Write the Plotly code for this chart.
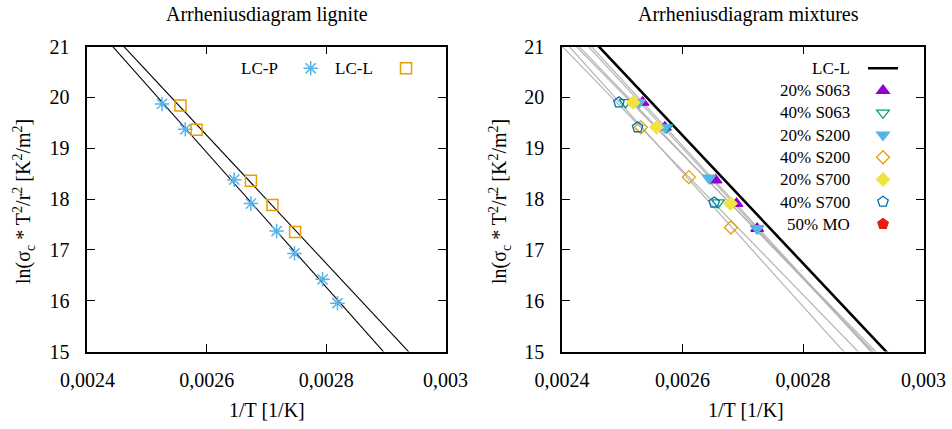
import numpy as np
import plotly.graph_objects as go

W, H = 952, 429

# ---------------- data ----------------
x_ticks = [0.0024, 0.0026, 0.0028, 0.003]
x_tick_labels = ["0,0024", "0,0026", "0,0028", "0,003"]
y_ticks = [15, 16, 17, 18, 19, 20, 21]

# lignite (left panel)
lcp_x = [0.002525, 0.002564, 0.002646, 0.002674, 0.002717, 0.002747, 0.002794, 0.002819]
lcp_y = [19.87, 19.37, 18.38, 17.91, 17.37, 16.93, 16.42, 15.95]
lcl_x = [0.002556, 0.002583, 0.002674, 0.002710, 0.002748]
lcl_y = [19.84, 19.36, 18.36, 17.88, 17.35]

# Arrhenius fit lines (intercept, slope)
lcp_fit = [53.32, -13233.0]
lcl_fit = [51.97, -12584.0]

# mixtures (right panel)
s063_20_x = [0.0025338, 0.0025708, 0.0026549, 0.0026897, 0.0027239]
s063_20_y = [19.90, 19.41, 18.37, 17.91, 17.42]
s063_40_x = [0.0025056, 0.0025736, 0.0026443, 0.0026592, 0.0027239]
s063_40_y = [19.90, 19.41, 18.41, 17.93, 17.42]
s200_20_x = [0.0025282, 0.0025708, 0.0026443, 0.0027239]
s200_20_y = [19.90, 19.41, 18.41, 17.42]
s200_40_x = [0.0025310, 0.0026106, 0.0026803]
s200_40_y = [19.41, 18.43, 17.44]
s700_20_x = [0.0025182, 0.0025570, 0.0026798]
s700_20_y = [19.90, 19.41, 17.91]
s700_40_x = [0.0024945, 0.0025255, 0.0026526]
s700_40_y = [19.90, 19.41, 17.93]
mo_50_x = []
mo_50_y = []

mix_names = ["20% S063", "40% S063", "20% S200", "40% S200", "20% S700", "40% S700", "50% MO"]
mix_x = [s063_20_x, s063_40_x, s200_20_x, s200_40_x, s700_20_x, s700_40_x, mo_50_x]
mix_y = [s063_20_y, s063_40_y, s200_20_y, s200_40_y, s700_20_y, s700_40_y, mo_50_y]

# ---------------- styles ----------------
FONT = "Liberation Serif, 'Times New Roman', Times, serif"
mix_symbols = ["triangle-up", "triangle-down-open", "triangle-down", "diamond-open",
               "diamond", "pentagon-open", "pentagon"]
mix_colors = ["#9400d3", "#009e73", "#56b4e9", "#e69f00", "#f0e442", "#0072b2", "#e51e10"]
mix_sizes = [11, 11, 11, 10, 10, 11, 11]

X_DOM1 = [87.4 / W, 445.5 / W]
X_DOM2 = [562.0 / W, 923.5 / W]
Y_DOM = [1 - 351.5 / H, 1 - 46.5 / H]

def px(x):
    return x / W

def py(y):
    return 1 - y / H

fig = go.Figure()
xline = np.array([x_ticks[0], x_ticks[-1]])

# left panel lines
for fit in (lcp_fit, lcl_fit):
    fig.add_trace(go.Scatter(x=xline, y=fit[0] + fit[1] * xline, mode="lines",
                             line=dict(color="black", width=1.1), showlegend=False,
                             xaxis="x", yaxis="y", hoverinfo="skip"))

fig.add_trace(go.Scatter(x=lcp_x, y=lcp_y, mode="markers", name="",
                         marker=dict(symbol="asterisk-open", size=12, color="#56b4e9",
                                     line=dict(color="#56b4e9", width=1.5)),
                         xaxis="x", yaxis="y", legend="legend"))
fig.add_trace(go.Scatter(x=lcl_x, y=lcl_y, mode="markers", name="",
                         marker=dict(symbol="square-open", size=11, color="#e69f00",
                                     line=dict(color="#e69f00", width=1.5)),
                         xaxis="x", yaxis="y", legend="legend2"))

# right panel: fitted lines for mixtures
for xs, ys in zip(mix_x, mix_y):
    if len(xs) < 2:
        continue
    b, a = np.polyfit(xs, ys, 1)
    fig.add_trace(go.Scatter(x=xline, y=a + b * xline, mode="lines",
                             line=dict(color="#b4b4b4", width=1.2), showlegend=False,
                             xaxis="x2", yaxis="y2", hoverinfo="skip"))

fig.add_trace(go.Scatter(x=xline, y=lcl_fit[0] + lcl_fit[1] * xline, mode="lines", name="",
                         line=dict(color="black", width=2.6),
                         xaxis="x2", yaxis="y2", legend="legend3"))

for name, xs, ys, sym, col, sz in zip(mix_names, mix_x, mix_y, mix_symbols, mix_colors, mix_sizes):
    fig.add_trace(go.Scatter(x=xs if len(xs) else [None], y=ys if len(ys) else [None],
                             mode="markers", name="",
                             marker=dict(symbol=sym, size=sz, color=col,
                                         line=dict(color=col, width=1.3)),
                             xaxis="x2", yaxis="y2", legend="legend3"))

axis_common = dict(showline=True, linecolor="black", linewidth=1.6, mirror="allticks",
                   ticks="inside", ticklen=8, tickwidth=1, tickcolor="black",
                   showgrid=False, zeroline=False, automargin=False,
                   tickfont=dict(family=FONT, size=20, color="black"))

xa = dict(axis_common, range=[x_ticks[0], x_ticks[-1]], tickvals=x_ticks,
          ticktext=x_tick_labels, ticklabelstandoff=10)
ya = dict(axis_common, range=[y_ticks[0], y_ticks[-1]], tickvals=y_ticks,
          ticklabelstandoff=12)

LEG_FONT = 14.8
row0 = 68.3
leg_top = row0 - (5 + (LEG_FONT * 1.3 + 3) / 2)

fig.update_layout(
    width=W, height=H,
    margin=dict(l=0, r=0, t=0, b=0),
    paper_bgcolor="white", plot_bgcolor="white",
    font=dict(family=FONT, color="black"),
    xaxis=dict(xa, domain=X_DOM1, anchor="y"),
    yaxis=dict(ya, domain=Y_DOM, anchor="x"),
    xaxis2=dict(xa, domain=X_DOM2, anchor="y2"),
    yaxis2=dict(ya, domain=Y_DOM, anchor="x2"),
    legend=dict(x=px(310.7 - 20), y=py(leg_top), xanchor="left", yanchor="top",
                bgcolor="rgba(0,0,0,0)", font=dict(size=LEG_FONT, family=FONT),
                itemwidth=30),
    legend2=dict(x=px(406 - 20), y=py(leg_top), xanchor="left", yanchor="top",
                 bgcolor="rgba(0,0,0,0)", font=dict(size=LEG_FONT, family=FONT),
                 itemwidth=30),
    legend3=dict(x=px(883 - 20), y=py(leg_top), xanchor="left", yanchor="top",
                 bgcolor="rgba(0,0,0,0)", font=dict(size=LEG_FONT, family=FONT),
                 itemwidth=30, tracegroupgap=0),
    showlegend=True,
)

ann = []
def text(x, y, s, size=20, xanchor="center", angle=0):
    ann.append(dict(x=px(x), y=py(y), xref="paper", yref="paper", text=s, showarrow=False,
                    xanchor=xanchor, yanchor="middle", textangle=angle,
                    font=dict(family=FONT, size=size, color="black")))

text(267, 14, "Arrheniusdiagram lignite")
text(748, 14, "Arrheniusdiagram mixtures")
text(267, 410, "1/T [1/K]")
text(746, 410, "1/T [1/K]")
ytitle = "ln(σ<sub>c</sub> * T<sup>2</sup>/r<sup>2</sup> [K<sup>2</sup>/m<sup>2</sup>]"
text(24, 202, ytitle, angle=-90)
text(500, 202, ytitle, angle=-90)

# legend labels (gnuplot style: text left of sample)
text(280, row0, "LC-P", size=17, xanchor="right")
text(375, row0, "LC-L", size=17, xanchor="right")
right_labels = ["LC-L"] + mix_names
row_step = 22.29
for i, lab in enumerate(right_labels):
    text(852, row0 + i * row_step, lab, size=17, xanchor="right")

fig.update_layout(annotations=ann)
fig.write_html("out.html")
